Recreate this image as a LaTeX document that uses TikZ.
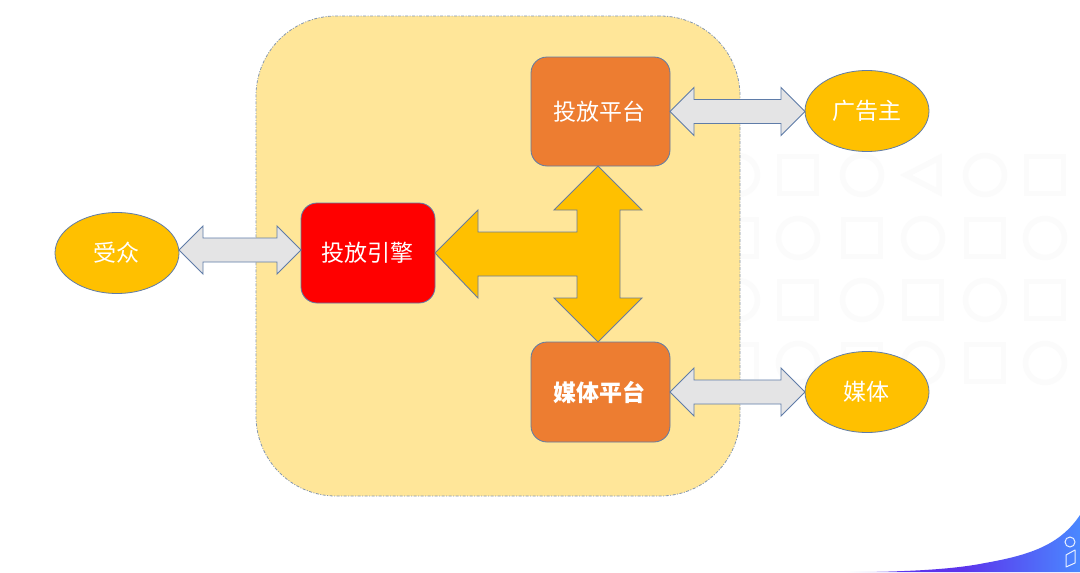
\documentclass[tikz,border=0pt]{standalone}
\usepackage{fontspec}
\setmainfont{Noto Sans CJK SC}
\usetikzlibrary{shapes.geometric,calc}
\definecolor{panelfill}{HTML}{FFE699}
\definecolor{paneledge}{HTML}{8497B0}
\definecolor{edgeblue}{HTML}{5F7CA8}
\definecolor{amber}{HTML}{FFC000}
\definecolor{orangebox}{HTML}{ED7D31}
\definecolor{arrowgrey}{HTML}{E4E4E5}
\definecolor{patterngrey}{HTML}{FBFBFB}
\definecolor{wavepurple}{HTML}{5C34EC}
\definecolor{waveblue}{HTML}{4A88FF}
\pgfdeclarehorizontalshading{waveshade}{100bp}{color(0bp)=(white);color(25bp)=(white);color(37bp)=(wavepurple);color(50bp)=(wavepurple);color(75bp)=(waveblue);color(100bp)=(waveblue)}
\tikzset{
  x=1pt,y=-1pt,
  label text/.style={text=white,font=\fontsize{23}{27}\selectfont},
  boxnode/.style={rectangle,rounded corners=16pt,draw=edgeblue,line width=0.8pt,inner sep=0pt,outer sep=0pt,label text},
  orangenode/.style={boxnode,fill=orangebox,minimum width=139pt},
  ovalnode/.style={ellipse,fill=amber,draw=edgeblue,line width=0.8pt,inner sep=0pt,outer sep=0pt,minimum width=124pt,minimum height=81pt,label text},
  blockgrey/.style={fill=arrowgrey,draw=edgeblue,line width=0.9pt,line join=miter},
  blockamber/.style={fill=amber,draw=edgeblue!70!gray,line width=0.9pt,line join=miter},
  patternline/.style={draw=patterngrey,line width=5.5pt},
}
% double block arrow between two tips on one horizontal line
\newcommand{\dblarrow}[2]{%
  \draw[blockgrey] let \p1=#1, \p2=#2 in
    (\x1,\y1) -- (\x1+24pt,\y1+24pt) -- (\x1+24pt,\y1+12pt) -- (\x2-24pt,\y1+12pt) -- (\x2-24pt,\y1+24pt) -- (\x2,\y1)
    -- (\x2-24pt,\y1-24pt) -- (\x2-24pt,\y1-12pt) -- (\x1+24pt,\y1-12pt) -- (\x1+24pt,\y1-24pt) -- cycle;}
\newcommand{\bgsq}[2]{\draw[patternline] (#1-18.5,#2-18.5) rectangle (#1+18.5,#2+18.5);}
\newcommand{\bgci}[2]{\draw[patternline] (#1,#2) circle[radius=19.5pt];}
\begin{document}
\begin{tikzpicture}
\useasboundingbox (0,0) rectangle (1080,573);
\fill[white] (0,0) rectangle (1080,573);
% background pattern
\bgci{738}{175}\bgsq{798}{175}\bgci{862}{175}\bgci{985}{175}\bgsq{1045}{175}
\draw[patternline,line join=miter] (906,175) -- (939,158) -- (939,192) -- cycle;
\bgsq{738}{238}\bgci{798}{238}\bgsq{862}{238}\bgci{923}{238}\bgsq{985}{238}\bgci{1045}{238}
\bgci{738}{300}\bgsq{798}{300}\bgci{862}{300}\bgsq{923}{300}\bgci{985}{300}\bgsq{1045}{300}
\bgsq{738}{363}\bgci{798}{363}\bgsq{862}{363}\bgci{923}{363}\bgsq{985}{363}\bgci{1045}{363}
% corner wave
\shade[shading=waveshade] (845,572) .. controls (900,572) and (950,570) .. (985,563)
  .. controls (1030,555) and (1060,545) .. (1080,515) -- (1080,572) -- cycle;
\draw[white!88!waveblue,line width=1pt] (1070,542) circle[radius=5pt];
\draw[white!88!waveblue,line width=1pt,line join=round] (1066,555) -- (1075,550) -- (1075,563) -- (1066,567) -- cycle;
% panel
\node[rectangle,rounded corners=80pt,fill=panelfill,draw=paneledge,line width=0.8pt,dash pattern=on 3pt off 1.5pt on 1pt off 1.5pt,inner sep=0pt,outer sep=0pt,minimum width=484pt,minimum height=480pt] (panel) at (498,256) {};
% nodes
\node[orangenode,minimum height=109pt] (adplat) at (600.5,111.5) {\hspace*{-3pt}投放平台};
\node[orangenode,minimum height=100pt] (mediaplat) at (600.5,392) {\hspace*{-3pt}\textbf{媒体平台}};
\node[boxnode,fill=red,minimum width=134pt,minimum height=100pt] (engine) at (368,253) {\hspace*{-2pt}投放引擎};
\node[ovalnode] (audience) at (117,253) {\hspace*{-1pt}受众};
\node[ovalnode] (advertiser) at (867,111) {\hspace*{-1pt}广告主};
\node[ovalnode] (media) at (867,392) {\hspace*{-2pt}媒体};
% connectors
\dblarrow{($(audience.east)+(0,-3)$)}{($(engine.west)+(0,-3)$)}
\dblarrow{(adplat.east)}{(advertiser.west)}
\dblarrow{(mediaplat.east)}{(media.west)}
\draw[blockamber] (engine.east) -- ++(43,-43) -- ++(0,22) -- ++(99,0) -- ++(0,-22) -- ++(-23,0)
  -- ($(adplat.south)+(-2.5,0)$) -- ++(44,44) -- ++(-22,0) -- ++(0,88) -- ++(22,0)
  -- ($(mediaplat.north)+(-2.5,0)$) -- ++(-44,-44) -- ++(23,0) -- ++(0,-22) -- ++(-99,0) -- ++(0,22) -- cycle;
\end{tikzpicture}
\end{document}
